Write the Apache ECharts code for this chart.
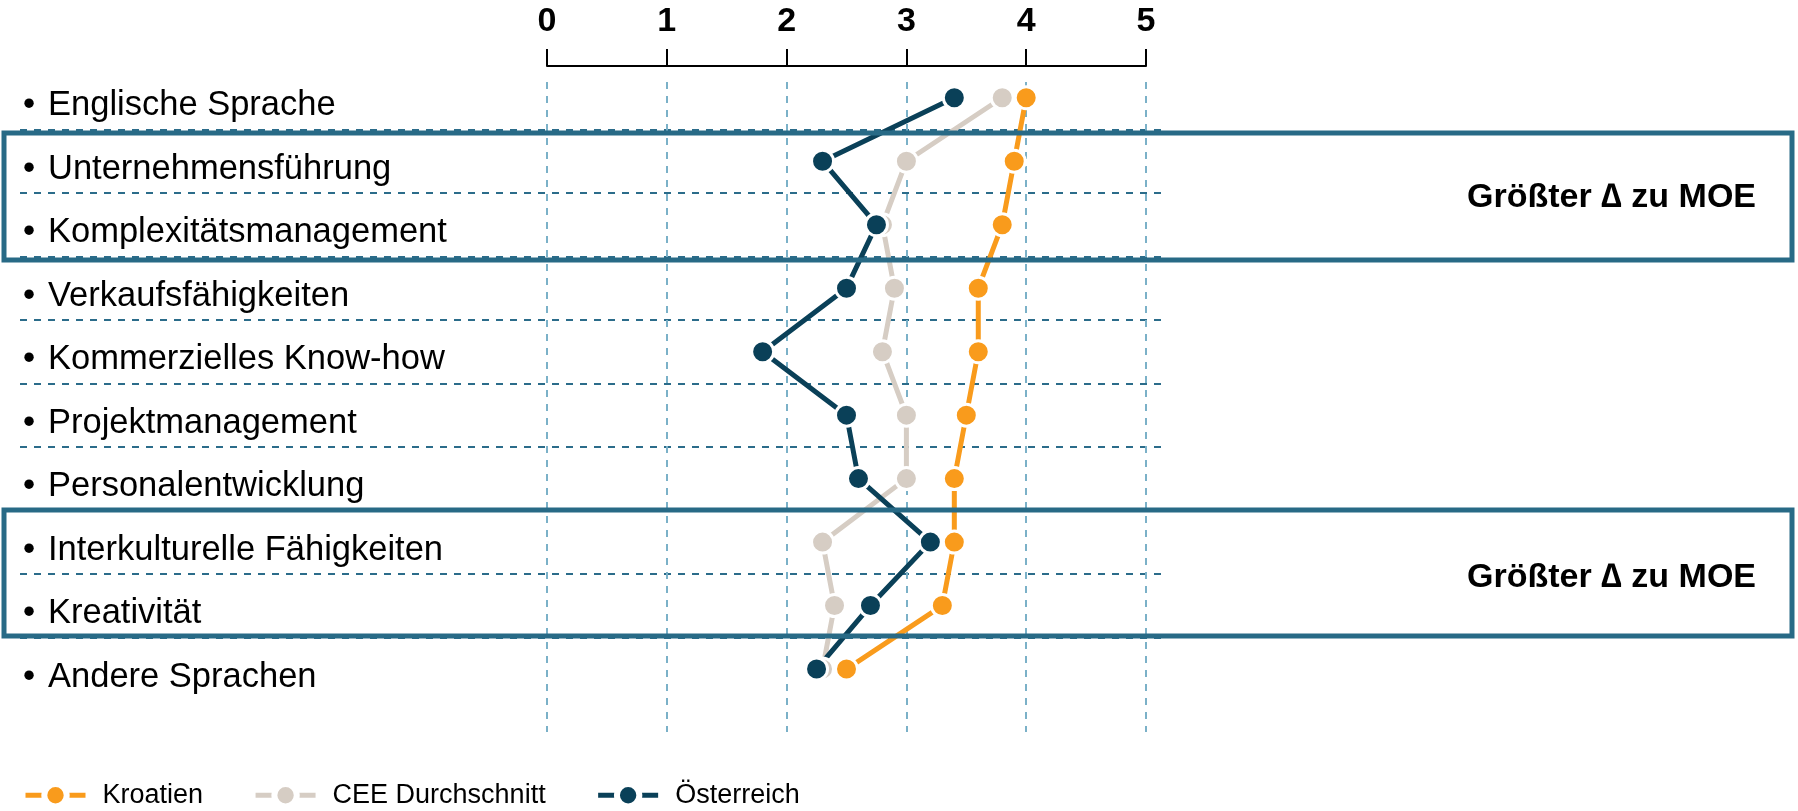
<!DOCTYPE html>
<html>
<head>
<meta charset="utf-8">
<script src="https://cdn.jsdelivr.net/npm/echarts@6/dist/echarts.min.js"></script>
<style>
  html, body { margin: 0; padding: 0; background: #ffffff; }
  #chart { width: 1798px; height: 811px; }
</style>
</head>
<body>
<div id="chart"></div>
<script>
// Skill categories, top to bottom
const categories = [
  'Englische Sprache',
  'Unternehmensführung',
  'Komplexitätsmanagement',
  'Verkaufsfähigkeiten',
  'Kommerzielles Know-how',
  'Projektmanagement',
  'Personalentwicklung',
  'Interkulturelle Fähigkeiten',
  'Kreativität',
  'Andere Sprachen'
];

// Ratings on a 0–5 scale
const kroatien   = [4.0, 3.9, 3.8, 3.6, 3.6, 3.5, 3.4, 3.4, 3.3, 2.5];
const ceeAvg     = [3.8, 3.0, 2.8, 2.9, 2.8, 3.0, 3.0, 2.3, 2.4, 2.3];
const oesterreich = [3.4, 2.3, 2.75, 2.5, 1.8, 2.5, 2.6, 3.2, 2.7, 2.25];

const seriesNames = ['Kroatien', 'CEE Durchschnitt', 'Österreich'];
const seriesColors = ['#f99b1c', '#d6cdc4', '#0a4058'];
const axisTicks = { min: 0, max: 5, interval: 1 };
const calloutText = 'Größter ∆ zu MOE';

const FONT = "'Liberation Sans', Arial, sans-serif";
const BOX_COLOR = '#286a86';

const chart = echarts.init(document.getElementById('chart'), null, { renderer: 'canvas' });

function lineSeries(name, data, color) {
  return {
    name: name,
    type: 'line',
    xAxisIndex: 0,
    yAxisIndex: 0,
    data: data,
    symbol: 'circle',
    symbolSize: 22,
    lineStyle: { width: 5, color: color },
    itemStyle: { color: color, borderColor: '#ffffff', borderWidth: 3 },
    emphasis: { disabled: true },
    silent: true,
    z: 3
  };
}

const option = {
  animation: false,
  backgroundColor: '#ffffff',
  textStyle: { fontFamily: FONT },
  grid: [
    // plotting area
    { left: 547, top: 66, width: 599, height: 634.8 },
    // vertical dashed guides
    { left: 547, top: 82, width: 599, height: 650 },
    // horizontal row separators
    { left: 20, top: 66, width: 1142, height: 634.8 }
  ],
  xAxis: [
    {
      gridIndex: 0,
      type: 'value',
      position: 'top',
      min: axisTicks.min,
      max: axisTicks.max,
      interval: axisTicks.interval,
      axisLine: { show: true, lineStyle: { color: '#000000', width: 2 } },
      axisTick: { show: true, length: 17, lineStyle: { color: '#000000', width: 2 } },
      axisLabel: {
        show: true, fontSize: 34, fontWeight: 'bold', color: '#000000',
        margin: 27, fontFamily: FONT, showMinLabel: true, showMaxLabel: true
      },
      splitLine: { show: false }
    },
    {
      gridIndex: 1,
      type: 'value',
      min: axisTicks.min,
      max: axisTicks.max,
      interval: axisTicks.interval,
      axisLine: { show: false },
      axisTick: { show: false },
      axisLabel: { show: false },
      splitLine: { show: true, lineStyle: { color: '#7bb1c8', width: 2, type: [7, 7] } }
    },
    { gridIndex: 2, type: 'value', show: false, min: 0, max: 1 }
  ],
  yAxis: [
    {
      gridIndex: 0,
      type: 'category',
      data: categories,
      inverse: true,
      axisLine: { show: false },
      axisTick: { show: false },
      splitLine: { show: false },
      axisLabel: {
        show: true,
        align: 'left',
        margin: 524,
        padding: [16, 0, 0, 0],
        formatter: function (v) { return '{b|•}{t|' + v + '}'; },
        rich: {
          b: { width: 25, fontSize: 34.5, color: '#000000', fontFamily: FONT },
          t: { fontSize: 34.5, color: '#000000', fontFamily: FONT }
        }
      }
    },
    { gridIndex: 1, type: 'value', show: false, min: 0, max: 1 },
    {
      gridIndex: 2,
      type: 'category',
      data: categories,
      inverse: true,
      axisLine: { show: false },
      axisTick: { show: false },
      axisLabel: { show: false },
      splitLine: {
        show: true,
        showMinLine: false,
        showMaxLine: false,
        lineStyle: { color: '#2b6c8a', width: 2, type: [7, 7] }
      }
    }
  ],
  legend: {
    left: 18,
    top: 776,
    itemWidth: 60,
    itemHeight: 28,
    itemGap: 50,
    selectedMode: false,
    data: seriesNames,
    lineStyle: { width: 5 },
    itemStyle: { borderColor: '#ffffff', borderWidth: 6 },
    textStyle: { fontSize: 27, color: '#000000', fontFamily: FONT, padding: [0, 0, 0, 12] }
  },
  series: [
    lineSeries(seriesNames[0], kroatien, seriesColors[0]),
    lineSeries(seriesNames[1], ceeAvg, seriesColors[1]),
    lineSeries(seriesNames[2], oesterreich, seriesColors[2])
  ],
  graphic: [
    {
      type: 'rect', z: 100, silent: true,
      shape: { x: 4, y: 133, width: 1788, height: 127 },
      style: { fill: 'none', stroke: BOX_COLOR, lineWidth: 5 }
    },
    {
      type: 'rect', z: 100, silent: true,
      shape: { x: 4, y: 510, width: 1788, height: 126 },
      style: { fill: 'none', stroke: BOX_COLOR, lineWidth: 5 }
    },
    {
      type: 'text', z: 101, silent: true,
      x: 1756, y: 198,
      style: {
        text: calloutText, fill: '#000000', font: 'bold 34px ' + FONT,
        align: 'right', verticalAlign: 'middle'
      }
    },
    {
      type: 'text', z: 101, silent: true,
      x: 1756, y: 578,
      style: {
        text: calloutText, fill: '#000000', font: 'bold 34px ' + FONT,
        align: 'right', verticalAlign: 'middle'
      }
    }
  ]
};

chart.setOption(option);
</script>
</body>
</html>
